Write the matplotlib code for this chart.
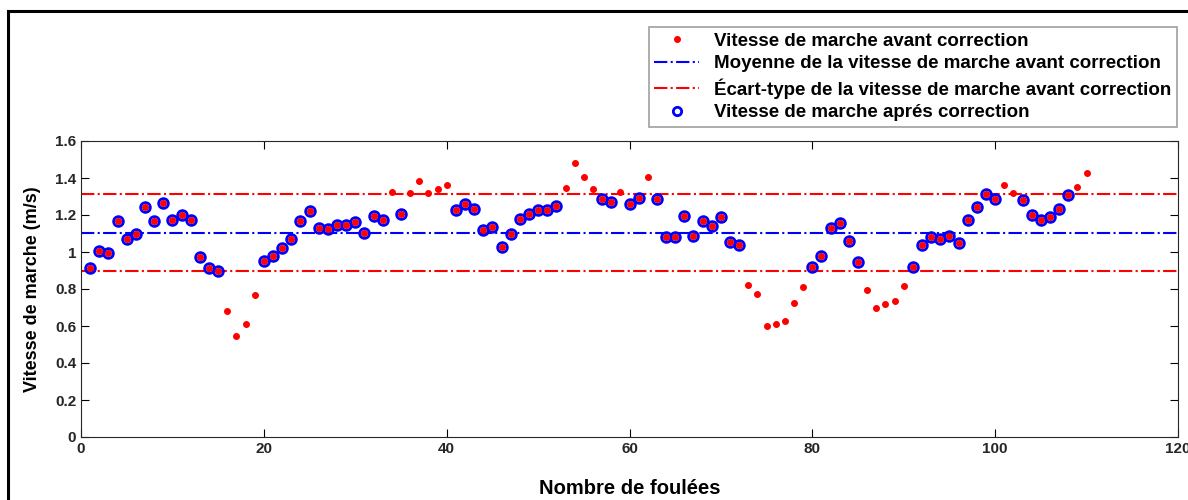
"""Vitesse de marche par foulée, avant et après correction (seuil moyenne ± écart-type)."""

import matplotlib

matplotlib.use("Agg")
import matplotlib.pyplot as plt  # noqa: E402
import numpy as np  # noqa: E402
from matplotlib.lines import Line2D  # noqa: E402

plt.rcParams["font.family"] = ["Liberation Sans", "DejaVu Sans"]
plt.rcParams["font.weight"] = "bold"

foulees = np.arange(1, 111)
vitesse = [
    0.915, 1.005, 0.993, 1.169, 1.072, 1.099, 1.243, 1.169, 1.263, 1.173,
    1.198, 1.175, 0.975, 0.915, 0.899, 0.683, 0.546, 0.613, 0.766, 0.950,
    0.980, 1.020, 1.070, 1.166, 1.222, 1.128, 1.126, 1.146, 1.146, 1.160,
    1.103, 1.193, 1.173, 1.326, 1.204, 1.321, 1.382, 1.317, 1.342, 1.360,
    1.227, 1.261, 1.232, 1.117, 1.137, 1.025, 1.095, 1.180, 1.207, 1.227,
    1.225, 1.249, 1.348, 1.479, 1.404, 1.342, 1.285, 1.272, 1.324, 1.258,
    1.292, 1.404, 1.288, 1.081, 1.081, 1.196, 1.086, 1.169, 1.141, 1.187,
    1.054, 1.038, 0.820, 0.773, 0.600, 0.611, 0.629, 0.726, 0.809, 0.921,
    0.977, 1.128, 1.157, 1.061, 0.946, 0.793, 0.697, 0.717, 0.737, 0.816,
    0.919, 1.036, 1.081, 1.072, 1.086, 1.050, 1.171, 1.245, 1.311, 1.288,
    1.360, 1.319, 1.279, 1.200, 1.171, 1.189, 1.232, 1.306, 1.353, 1.425,
]
moyenne = 1.105
ecart_type = 0.209

v = np.array(vitesse)
bas, haut = moyenne - ecart_type, moyenne + ecart_type
garde = (v >= bas) & (v <= haut)

fig = plt.figure(figsize=(11.88, 5.0), dpi=100)
ax = fig.add_axes([81 / 1188, 63 / 500, 1097 / 1188, 296 / 500])

ax.plot(foulees[garde], v[garde], "o", ms=7, mfc="none", mec="blue", mew=2.0, zorder=3)
ax.plot(foulees, v, ".", color="red", ms=8, zorder=4)
ax.axhline(moyenne, color="blue", ls="-.", lw=1.5)
ax.axhline(bas, color="red", ls="-.", lw=1.5)
ax.axhline(haut, color="red", ls="-.", lw=1.5)

ax.set_xlim(0, 120)
ax.set_ylim(0, 1.6)
ax.set_xticks(np.arange(0, 121, 20))
ax.set_yticks(np.arange(0, 1.61, 0.2))
ax.set_yticklabels(["0", "0.2", "0.4", "0.6", "0.8", "1", "1.2", "1.4", "1.6"])
ax.tick_params(direction="in", top=True, right=True, labelsize=11, length=6, width=0.8)
for lbl in ax.get_xticklabels() + ax.get_yticklabels():
    lbl.set_fontweight("bold")
    lbl.set_color("#262626")
for s in ax.spines.values():
    s.set_color("#262626")
ax.set_xlabel("Nombre de foulées", fontsize=14.5, fontweight="bold", labelpad=17)
ax.set_ylabel("Vitesse de marche (m/s)", fontsize=13, fontweight="bold", labelpad=10)

handles = [
    Line2D([], [], ls="none", marker=".", color="red", ms=8),
    Line2D([], [], color="blue", ls="-.", lw=1.5),
    Line2D([], [], color="red", ls="-.", lw=1.5),
    Line2D([], [], ls="none", marker="o", mfc="none", mec="blue", mew=2.0, ms=6),
]
labels = [
    "Vitesse de marche avant correction",
    "Moyenne de la vitesse de marche avant correction",
    "Écart-type de la vitesse de marche avant correction",
    "Vitesse de marche aprés correction",
]
leg = fig.legend(
    handles, labels, loc="upper right", bbox_to_anchor=(1177 / 1188, 1 - 27 / 500),
    prop={"weight": "bold", "size": 13.5}, frameon=True, fancybox=False,
    handlelength=2.4, borderpad=0.3, labelspacing=0.3, handletextpad=0.8,
    borderaxespad=0,
)
leg.get_frame().set_edgecolor("#888888")
leg.get_frame().set_linewidth(1.2)

# cadre noir du haut et de gauche
fig.add_artist(Line2D([8 / 1188, 1], [1 - 11 / 500] * 2, color="black", lw=2.2))
fig.add_artist(Line2D([8 / 1188] * 2, [0, 1 - 11 / 500], color="black", lw=2.2))

fig.savefig("out.png", dpi=100)
